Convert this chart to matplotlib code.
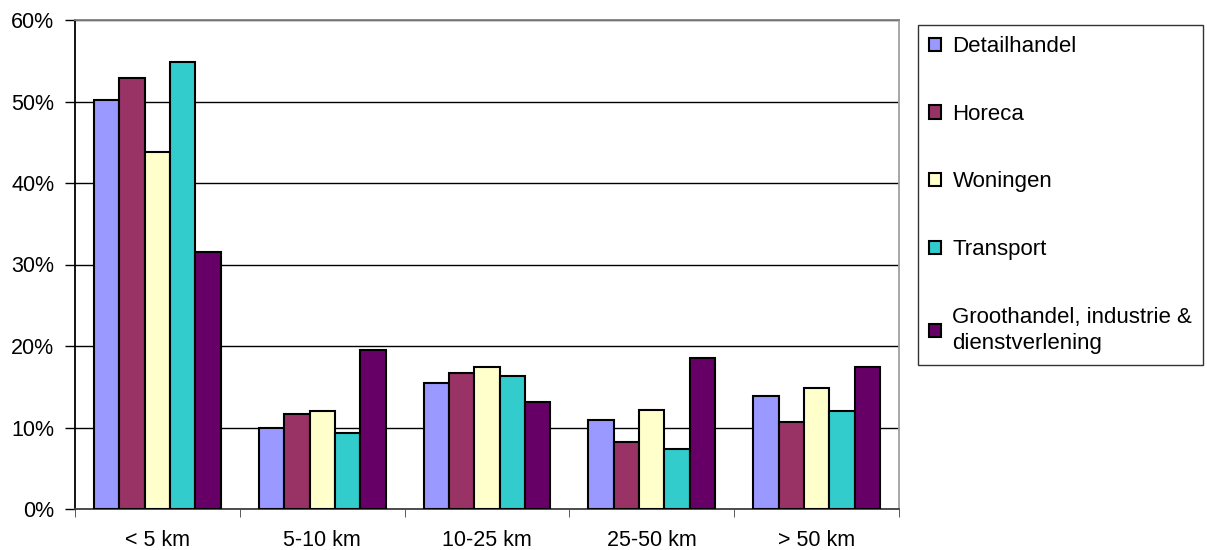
import numpy as np
import matplotlib.pyplot as plt
from matplotlib.ticker import FuncFormatter

plt.rcParams['font.family'] = ['Liberation Sans', 'DejaVu Sans']

categories = ["< 5 km", "5-10 km", "10-25 km", "25-50 km", "> 50 km"]
series = ["Detailhandel", "Horeca", "Woningen", "Transport",
          "Groothandel, industrie &\ndienstverlening"]
detailhandel = [50.2, 10.0, 15.5, 10.9, 13.9]
horeca = [52.9, 11.7, 16.7, 8.2, 10.7]
woningen = [43.8, 12.0, 17.4, 12.2, 14.8]
transport = [54.9, 9.3, 16.3, 7.4, 12.0]
groothandel = [31.5, 19.5, 13.1, 18.5, 17.4]
colors = ["#9999FF", "#993366", "#FFFFCC", "#33CCCC", "#660066"]

values = [detailhandel, horeca, woningen, transport, groothandel]

fig = plt.figure(figsize=(12.07, 5.5), dpi=100)
ax = fig.add_axes([75/1207, 1 - 509/550, 824/1207, 489/550])

x = np.arange(len(categories))
w = 0.154
for i, (name, vals, c) in enumerate(zip(series, values, colors)):
    ax.bar(x + (i - 2) * w, vals, w, color=c, edgecolor='black',
           linewidth=1.5, label=name, zorder=3)

ax.set_xlim(-0.5, len(categories) - 0.5)
ax.set_ylim(0, 60)
ax.set_yticks(np.arange(0, 61, 10))
ax.yaxis.set_major_formatter(FuncFormatter(lambda v, p: f"{v:.0f}%"))
ax.yaxis.grid(True, color='black', linewidth=1, zorder=0)
ax.set_axisbelow(True)

ax.set_xticks(x)
ax.set_xticklabels(categories)
ax.set_xticks(np.arange(-0.5, len(categories)), minor=True)
ax.tick_params(axis='x', which='major', length=0, pad=15, labelsize=15.5)
ax.tick_params(axis='x', which='minor', length=6, color='#404040', direction='out')
ax.tick_params(axis='y', length=7, width=1, pad=8, labelsize=15.5, color='black')

ax.spines['top'].set_color('#808080')
ax.spines['right'].set_color('#a0a0a0')
ax.spines['left'].set_color('black')
ax.spines['bottom'].set_color('#404040')
for s in ax.spines.values():
    s.set_linewidth(1.3)

leg = ax.legend(loc='upper left', bbox_to_anchor=(918/1207, 1 - 25/550),
                bbox_transform=fig.transFigure, borderaxespad=0,
                fontsize=16, frameon=True, fancybox=False, edgecolor='black',
                handlelength=0.55, handleheight=0.55, handletextpad=0.5,
                labelspacing=2.1, borderpad=0.5)
leg.get_frame().set_linewidth(1)
for t in leg.get_texts():
    t.set_linespacing(1.35)

fig.savefig("out.png", dpi=100)
